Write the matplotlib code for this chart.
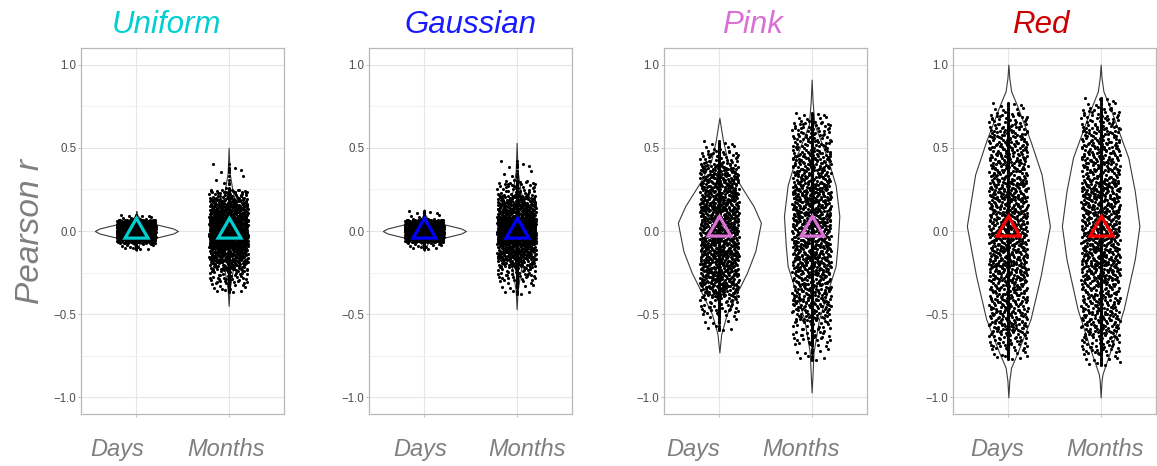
import numpy as np
import matplotlib
matplotlib.use("Agg")
import matplotlib.pyplot as plt
from matplotlib.transforms import ScaledTranslation
from matplotlib.ticker import MultipleLocator

plt.rcParams['font.family'] = ['Liberation Sans', 'DejaVu Sans']

# ---------------- data ----------------
panels = ["Uniform", "Gaussian", "Pink", "Red"]
title_colors = ["#00CED1", "#1A1AFF", "#DA70D6", "#CC0000"]
marker_colors = ["#00CED1", "#0000FF", "#DA70D6", "#FF0000"]
groups = ["Days", "Months"]

# quantiles of the Pearson r point clouds
quantile_levels = [0.0, 0.01, 0.05, 0.10, 0.25, 0.50, 0.75, 0.90, 0.95, 0.99, 1.0]
uniform_days_q = [-0.11, -0.075, -0.055, -0.045, -0.025, 0.0, 0.025, 0.045, 0.055, 0.07, 0.10]
uniform_months_q = [-0.37, -0.32, -0.24, -0.19, -0.10, -0.01, 0.08, 0.16, 0.20, 0.25, 0.43]
gaussian_days_q = [-0.11, -0.07, -0.055, -0.045, -0.025, 0.0, 0.025, 0.045, 0.055, 0.07, 0.13]
gaussian_months_q = [-0.38, -0.30, -0.22, -0.17, -0.08, 0.0, 0.08, 0.17, 0.22, 0.30, 0.44]
pink_days_q = [-0.60, -0.50, -0.40, -0.34, -0.20, 0.0, 0.20, 0.34, 0.40, 0.48, 0.55]
pink_months_q = [-0.78, -0.68, -0.55, -0.46, -0.25, 0.02, 0.27, 0.47, 0.57, 0.66, 0.72]
red_days_q = [-0.77, -0.71, -0.62, -0.54, -0.30, 0.0, 0.30, 0.53, 0.62, 0.71, 0.78]
red_months_q = [-0.81, -0.74, -0.64, -0.55, -0.30, 0.0, 0.30, 0.54, 0.64, 0.74, 0.81]

# means (triangles)
uniform_means = [0.0, 0.0]
gaussian_means = [0.0, 0.0]
pink_means = [0.01, 0.01]
red_means = [0.01, 0.01]

# violin outlines: y levels and half-widths
uniform_days_vy = [-0.12, -0.10, -0.07, -0.05, -0.03, -0.015, 0.0, 0.015, 0.03, 0.05, 0.07, 0.10, 0.12]
uniform_days_vw = [0.0, 0.005, 0.045, 0.14, 0.29, 0.40, 0.45, 0.40, 0.29, 0.14, 0.045, 0.005, 0.0]
uniform_months_vy = [-0.45, -0.35, -0.25, -0.15, -0.05, 0.0, 0.05, 0.15, 0.25, 0.35, 0.50]
uniform_months_vw = [0.0, 0.01, 0.04, 0.08, 0.105, 0.11, 0.105, 0.08, 0.04, 0.01, 0.0]
gaussian_days_vy = [-0.12, -0.10, -0.07, -0.05, -0.03, -0.015, 0.0, 0.015, 0.03, 0.05, 0.07, 0.10, 0.13]
gaussian_days_vw = [0.0, 0.005, 0.045, 0.14, 0.29, 0.40, 0.45, 0.40, 0.29, 0.14, 0.045, 0.005, 0.0]
gaussian_months_vy = [-0.47, -0.36, -0.25, -0.15, -0.05, 0.0, 0.05, 0.15, 0.25, 0.36, 0.53]
gaussian_months_vw = [0.0, 0.01, 0.04, 0.08, 0.105, 0.11, 0.105, 0.08, 0.04, 0.01, 0.0]
pink_days_vy = [-0.73, -0.62, -0.50, -0.35, -0.25, -0.12, 0.05, 0.15, 0.22, 0.30, 0.42, 0.54, 0.68]
pink_days_vw = [0.0, 0.02, 0.08, 0.21, 0.30, 0.39, 0.45, 0.37, 0.29, 0.20, 0.09, 0.04, 0.0]
pink_months_vy = [-0.97, -0.86, -0.73, -0.53, -0.37, -0.21, -0.09, 0.09, 0.275, 0.44, 0.64, 0.78, 0.91]
pink_months_vw = [0.0, 0.01, 0.02, 0.08, 0.17, 0.26, 0.28, 0.30, 0.26, 0.17, 0.03, 0.01, 0.0]
red_days_vy = [-1.0, -0.90, -0.82, -0.73, -0.53, -0.27, 0.03, 0.34, 0.54, 0.76, 0.84, 0.92, 1.0]
red_days_vw = [0.0, 0.01, 0.03, 0.10, 0.24, 0.35, 0.45, 0.36, 0.24, 0.09, 0.03, 0.01, 0.0]
red_months_vy = [-1.0, -0.90, -0.86, -0.73, -0.47, -0.17, 0.03, 0.24, 0.44, 0.70, 0.84, 0.92, 1.0]
red_months_vw = [0.0, 0.01, 0.02, 0.10, 0.25, 0.37, 0.42, 0.37, 0.30, 0.13, 0.03, 0.01, 0.0]

y_ticks = [-1.0, -0.5, 0.0, 0.5, 1.0]
y_tick_labels = ["\u22121.0", "\u22120.5", "0.0", "0.5", "1.0"]

panel_quantiles = [
    [uniform_days_q, uniform_months_q],
    [gaussian_days_q, gaussian_months_q],
    [pink_days_q, pink_months_q],
    [red_days_q, red_months_q],
]
panel_means = [uniform_means, gaussian_means, pink_means, red_means]
panel_violins = [
    [(uniform_days_vy, uniform_days_vw), (uniform_months_vy, uniform_months_vw)],
    [(gaussian_days_vy, gaussian_days_vw), (gaussian_months_vy, gaussian_months_vw)],
    [(pink_days_vy, pink_days_vw), (pink_months_vy, pink_months_vw)],
    [(red_days_vy, red_days_vw), (red_months_vy, red_months_vw)],
]

# ---------------- layout ----------------
W, H = 1157, 466
fig = plt.figure(figsize=(W / 100, H / 100), dpi=100)
fig.patch.set_facecolor("white")

ax_left_px = [81, 369, 664, 953]
ax_w_px, ax_top_px, ax_bot_px = 203, 48, 414
title_cx_px = [166, 470, 752, 1041]
# horizontal shifts of category labels (px) as seen in reference
label_shift_px = [(-19, -3), (-4, 10), (-26, -11), (-11, 4)]

N_POINTS = 1000


def radical_inverse(idx, base):
    out = np.zeros(len(idx))
    for k, i in enumerate(idx):
        f, r = 1.0, 0.0
        while i > 0:
            f /= base
            r += f * (i % base)
            i //= base
        out[k] = r
    return out


jitter_w = 0.21
gray_txt = "#7f7f7f"

for pi, name in enumerate(panels):
    ax = fig.add_axes([ax_left_px[pi] / W, (H - ax_bot_px) / H,
                       ax_w_px / W, (ax_bot_px - ax_top_px) / H])
    ax.set_xlim(0.4, 2.6)
    ax.set_ylim(-1.1, 1.1)
    ax.set_facecolor("white")

    for gi, g in enumerate(groups):
        cx = gi + 1
        vy, vw = panel_violins[pi][gi]
        vy = np.asarray(vy)
        vw = np.asarray(vw)
        ax.fill_betweenx(vy, cx - vw, cx + vw, facecolor="white",
                         edgecolor="#3a3a3a", linewidth=0.8, zorder=2)

        idx = np.arange(1, N_POINTS + 1) + 37 * (2 * pi + gi)
        p = radical_inverse(idx, 3)
        u = radical_inverse(idx, 2)
        yv = np.interp(p, quantile_levels, panel_quantiles[pi][gi])
        xv = cx + (2 * u - 1) * jitter_w
        ax.scatter(xv, yv, s=5, c="black", linewidths=0, zorder=3)
        ax.scatter(np.full_like(yv, cx), yv, s=5, c="black", linewidths=0, zorder=3)
        ax.plot([cx], [panel_means[pi][gi]], marker=(3, 0, 0), markersize=19,
                markerfacecolor="none", markeredgecolor=marker_colors[pi],
                markeredgewidth=2.3, linestyle="none", zorder=4)

    ax.set_xticks([1, 2])
    ax.set_xticklabels(groups, fontsize=17, style="italic", color=gray_txt)
    ax.set_yticks(y_ticks)
    ax.set_yticklabels(y_tick_labels, fontsize=8.3, color="#4d4d4d")
    ax.yaxis.set_minor_locator(MultipleLocator(0.25))
    ax.tick_params(axis="y", which="major", length=2.5, width=0.6, color="#b3b3b3", pad=1)
    ax.tick_params(axis="y", which="minor", length=0)
    ax.tick_params(axis="x", which="major", length=2.5, width=0.6, color="#b3b3b3", pad=15)
    for lab, dx in zip(ax.get_xticklabels(), label_shift_px[pi]):
        lab.set_transform(lab.get_transform() + ScaledTranslation(dx / 100, 0, fig.dpi_scale_trans))

    ax.grid(True, which="major", color="#e6e6e6", linewidth=0.8, zorder=0)
    ax.grid(True, which="minor", axis="y", color="#f0f0f0", linewidth=0.6, zorder=0)
    ax.set_axisbelow(True)
    for s in ax.spines.values():
        s.set_color("#b8b8b8")
        s.set_linewidth(0.9)

    fig.text(title_cx_px[pi] / W, 1 - 33 / H, name, fontsize=22.5, style="italic",
             color=title_colors[pi], ha="center", va="baseline")

fig.text(39 / W, 1 - 231 / H, "Pearson r", fontsize=24, style="italic",
         color=gray_txt, rotation=90, rotation_mode="anchor",
         ha="center", va="baseline")

fig.savefig("out.png", dpi=100, facecolor="white")
